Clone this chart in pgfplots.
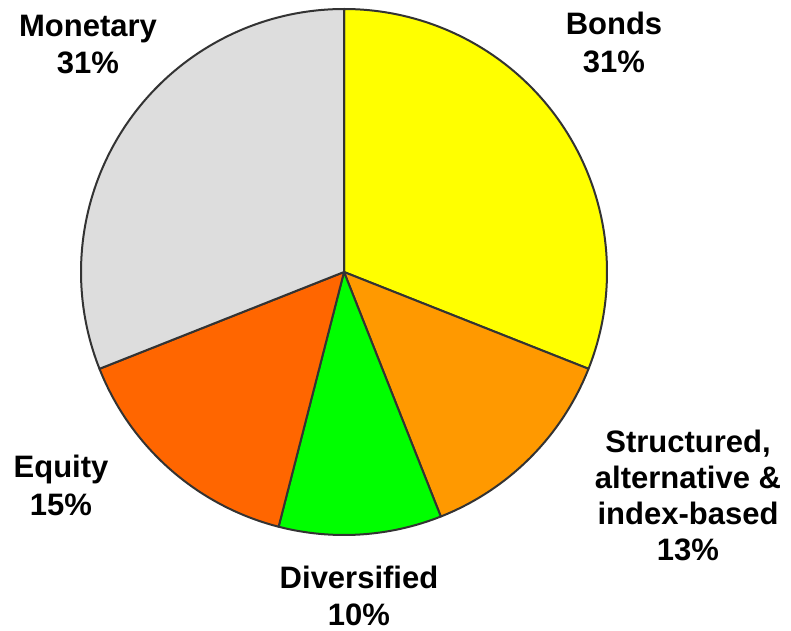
\documentclass[border=0pt]{standalone}
\usepackage{pgfplots}
\usepackage{pgfplotstable}
\pgfplotsset{compat=1.18}
\usepackage{fontspec}
\setmainfont{Liberation Sans}
\definecolor{cBonds}{HTML}{FFFF00}
\definecolor{cStruct}{HTML}{FF9900}
\definecolor{cDiv}{HTML}{00FF00}
\definecolor{cEq}{HTML}{FF6600}
\definecolor{cMon}{HTML}{DDDDDD}
\definecolor{edge}{HTML}{333333}
\pgfplotstableread{
slice pct
Bonds 31
Structured 13
Diversified 10
Equity 15
Monetary 31
}\piedata
\begin{document}
\begin{tikzpicture}
\pgfplotstablegetelem{0}{pct}\of\piedata \let\pA\pgfplotsretval
\pgfplotstablegetelem{1}{pct}\of\piedata \let\pB\pgfplotsretval
\pgfplotstablegetelem{2}{pct}\of\piedata \let\pC\pgfplotsretval
\pgfplotstablegetelem{3}{pct}\of\piedata \let\pD\pgfplotsretval
\pgfplotstablegetelem{4}{pct}\of\piedata \let\pE\pgfplotsretval
\pgfmathsetmacro\aA{90}
\pgfmathsetmacro\aB{\aA-3.6*\pA}
\pgfmathsetmacro\aC{\aB-3.6*\pB}
\pgfmathsetmacro\aD{\aC-3.6*\pC}
\pgfmathsetmacro\aE{\aD-3.6*\pD}
\pgfmathsetmacro\aF{\aE-3.6*\pE}
\begin{axis}[
  scale only axis, width=791pt, height=630pt,
  xmin=0, xmax=791, ymin=0, ymax=630,
  hide axis, clip=false,
]
\path (axis cs:0,0) rectangle (axis cs:791,630);
\filldraw[fill=cBonds, draw=edge, line width=2pt, line join=round] (axis cs:344,358) -- ++(\aA:263pt) arc[start angle=\aA, end angle=\aB, radius=263pt] -- cycle;
\filldraw[fill=cStruct, draw=edge, line width=2pt, line join=round] (axis cs:344,358) -- ++(\aB:263pt) arc[start angle=\aB, end angle=\aC, radius=263pt] -- cycle;
\filldraw[fill=cDiv, draw=edge, line width=2pt, line join=round] (axis cs:344,358) -- ++(\aC:263pt) arc[start angle=\aC, end angle=\aD, radius=263pt] -- cycle;
\filldraw[fill=cEq, draw=edge, line width=2pt, line join=round] (axis cs:344,358) -- ++(\aD:263pt) arc[start angle=\aD, end angle=\aE, radius=263pt] -- cycle;
\filldraw[fill=cMon, draw=edge, line width=2pt, line join=round] (axis cs:344,358) -- ++(\aE:263pt) arc[start angle=\aE, end angle=\aF, radius=263pt] -- cycle;
\tikzset{lab/.style={anchor=base, inner sep=0pt, font=\fontsize{31}{37}\selectfont\bfseries}}
\node[lab] at (axis cs:88,593) {Monetary};
\node[lab] at (axis cs:88,556) {\pE\%};
\node[lab] at (axis cs:614,595) {Bonds};
\node[lab] at (axis cs:614,557) {\pA\%};
\node[lab] at (axis cs:688,178) {Structured,};
\node[lab] at (axis cs:688,142) {alternative \&};
\node[lab] at (axis cs:688,106) {index-based};
\node[lab] at (axis cs:688,70) {\pB\%};
\node[lab] at (axis cs:61,153) {Equity};
\node[lab] at (axis cs:61,115) {\pD\%};
\node[lab] at (axis cs:359,42) {Diversified};
\node[lab] at (axis cs:359,5) {\pC\%};
\end{axis}
\end{tikzpicture}
\end{document}
